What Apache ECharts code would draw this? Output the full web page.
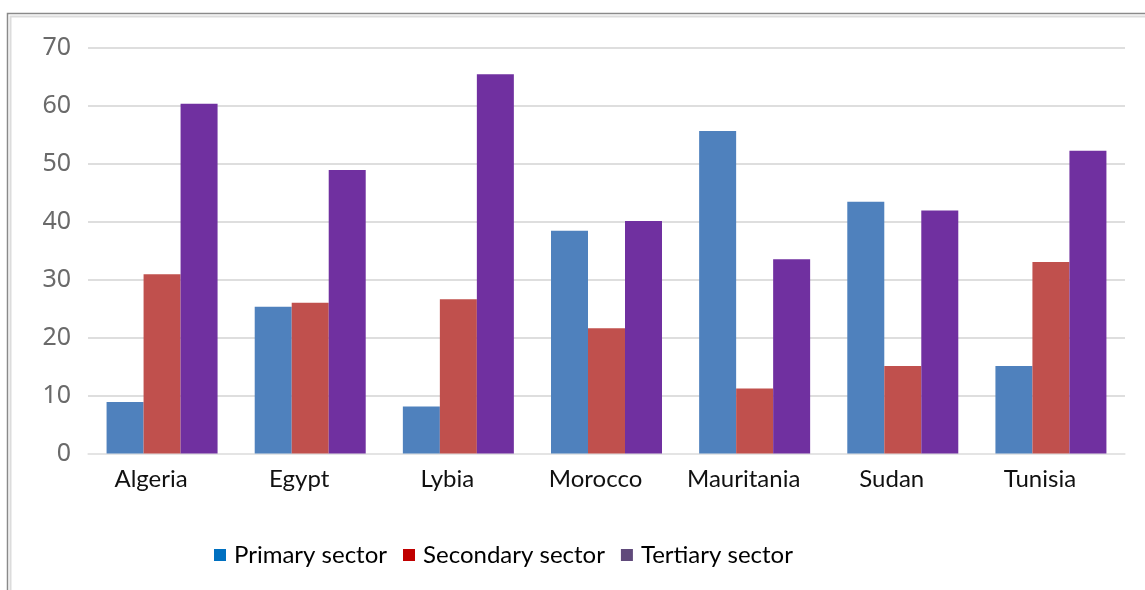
<!DOCTYPE html>
<html>
<head>
<meta charset="utf-8">
<script src="https://cdn.jsdelivr.net/npm/echarts@6/dist/echarts.min.js"></script>
<style>
  html, body { margin: 0; padding: 0; background: #ffffff; }
  #chart { width: 1145px; height: 590px; }
</style>
</head>
<body>
<div id="chart"></div>
<script>
// Employment share by sector (%), North African countries
const countries = ['Algeria', 'Egypt', 'Lybia', 'Morocco', 'Mauritania', 'Sudan', 'Tunisia'];
const primarySector = [8.9, 25.3, 8.1, 38.4, 55.6, 43.4, 15.1];
const secondarySector = [30.9, 26.0, 26.6, 21.6, 11.2, 15.1, 33.0];
const tertiarySector = [60.3, 48.9, 65.4, 40.1, 33.5, 41.9, 52.2];
const seriesNames = ['Primary sector', 'Secondary sector', 'Tertiary sector'];

const barColors = ['#4f81bd', '#c0504d', '#7030a0'];
const legendColors = ['#0070c0', '#c00000', '#604a7b'];

const chart = echarts.init(document.getElementById('chart'), null, { renderer: 'canvas' });

const seriesData = [primarySector, secondarySector, tertiarySector];

chart.setOption({
  backgroundColor: '#ffffff',
  animation: false,
  graphic: [
    {
      type: 'rect',
      shape: { x: 7.5, y: 13.5, width: 1200, height: 700 },
      style: { fill: 'none', stroke: '#8a8a8a', lineWidth: 1.5 },
      silent: true
    },
    {
      type: 'rect',
      shape: { x: 10.5, y: 16.5, width: 1200, height: 700 },
      style: { fill: 'none', stroke: '#dcdcdc', lineWidth: 2 },
      silent: true
    }
  ],
  grid: { left: 88, right: 20, top: 47.5, bottom: 136.5 },
  legend: {
    left: 209,
    top: 536,
    itemWidth: 12,
    itemHeight: 12,
    itemGap: 16,
    icon: 'rect',
    textStyle: {
      fontFamily: 'Lato',
      fontSize: 24,
      color: '#000000',
      lineHeight: 28,
      padding: [0, 0, 0, 3]
    },
    data: seriesNames.map((n, i) => ({ name: n, itemStyle: { color: legendColors[i] } }))
  },
  xAxis: {
    type: 'category',
    data: countries,
    axisLine: { show: true, lineStyle: { color: '#e6e6e6', width: 1.5 } },
    axisTick: { show: false },
    axisLabel: {
      fontFamily: 'Lato',
      fontSize: 24,
      color: '#111111',
      margin: 14,
      padding: [0, 22, 0, 0]
    }
  },
  yAxis: {
    type: 'value',
    min: 0,
    max: 70,
    interval: 10,
    axisLine: { show: false },
    axisTick: { show: false },
    splitLine: { lineStyle: { color: '#dedede', width: 2 } },
    axisLabel: {
      fontFamily: 'Noto Sans',
      fontSize: 25,
      color: '#6a6a6a',
      margin: 17
    }
  },
  series: seriesNames.map((n, i) => ({
    name: n,
    type: 'bar',
    data: seriesData[i],
    barWidth: 37,
    barGap: '0%',
    itemStyle: { color: barColors[i] }
  }))
});
</script>
</body>
</html>
